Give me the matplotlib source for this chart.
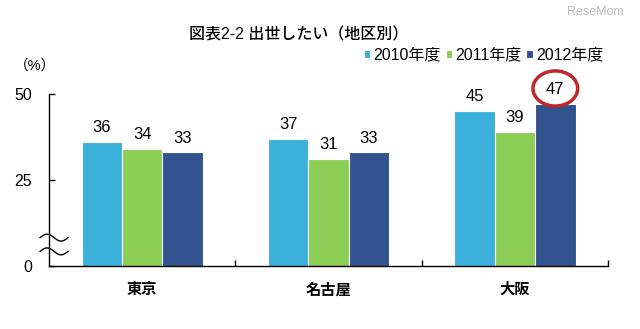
import numpy as np
import matplotlib.pyplot as plt
from matplotlib.patches import Ellipse

plt.rcParams['font.family'] = ['Liberation Sans', 'Noto Sans CJK JP', 'DejaVu Sans']

regions = ['東京', '名古屋', '大阪']
years = ['2010年度', '2011年度', '2012年度']
v2010 = [36, 37, 45]
v2011 = [34, 31, 39]
v2012 = [33, 33, 47]
colors = ['#3BB0DA', '#8CCD56', '#33538F']

fig = plt.figure(figsize=(6.4, 3.29), dpi=100)
ax = fig.add_axes([0.0766, 0.1915, 0.8735, 0.5228])

x = np.arange(len(regions))
w = 0.217
for i, (vals, c, lab) in enumerate(zip([v2010, v2011, v2012], colors, years)):
    xs = x + (i - 1) * w
    ax.bar(xs, vals, width=w, color=c, edgecolor='white', linewidth=0.8, label=lab)
    for xi, v in zip(xs, vals):
        ax.text(xi, v + 2.0, str(v), ha='center', va='bottom', fontsize=12)

# highlight the latest Osaka value
hx = x[2] + w
hy = v2012[2] + 4.6
ax.add_patch(Ellipse((hx, hy), 0.24, 10.2, fill=False, edgecolor='#C0272D',
                     linewidth=2.5, clip_on=False))

ax.set_xlim(-0.5, 2.5)
ax.set_ylim(0, 50)
ax.set_yticks([0, 25, 50])
ax.set_xticks([0.5, 1.5, 2.5])
ax.set_xticklabels([])
ax.set_xticks(x, minor=True)
ax.set_xticklabels(regions, minor=True, fontsize=11, fontweight='bold')
ax.tick_params(axis='x', which='minor', length=0, pad=12)
ax.tick_params(axis='x', which='major', direction='in', length=4, width=1)
ax.tick_params(axis='y', direction='in', length=4, width=1, labelsize=11.5, pad=12)
for s in ['top', 'right']:
    ax.spines[s].set_visible(False)
for s in ['left', 'bottom']:
    ax.spines[s].set_linewidth(1)

# axis break marks
t = np.linspace(0, 1, 50)
for yb in (0.165, 0.085):
    ax.plot(-0.016 + 0.05 * t, yb + 0.02 * np.sin(2 * np.pi * t),
            transform=ax.transAxes, color='black', lw=1, clip_on=False)

fig.legend(loc='center right', bbox_to_anchor=(0.955, 0.833), ncol=3, frameon=False,
           fontsize=11.5, handlelength=0.4, handleheight=0.4, handletextpad=0.2,
           columnspacing=0.3, borderpad=0)

fig.text(0.467, 0.894, '図表2-2 出世したい（地区別）', ha='center', va='center',
         fontsize=11.5, fontweight='medium')
fig.text(0.055, 0.80, '（%）', ha='center', va='center', fontsize=10.5)
fig.text(0.93, 0.965, 'ReseMom', ha='center', va='center', fontsize=9, color='#BBBBBB')

fig.savefig('out.png', dpi=100)
